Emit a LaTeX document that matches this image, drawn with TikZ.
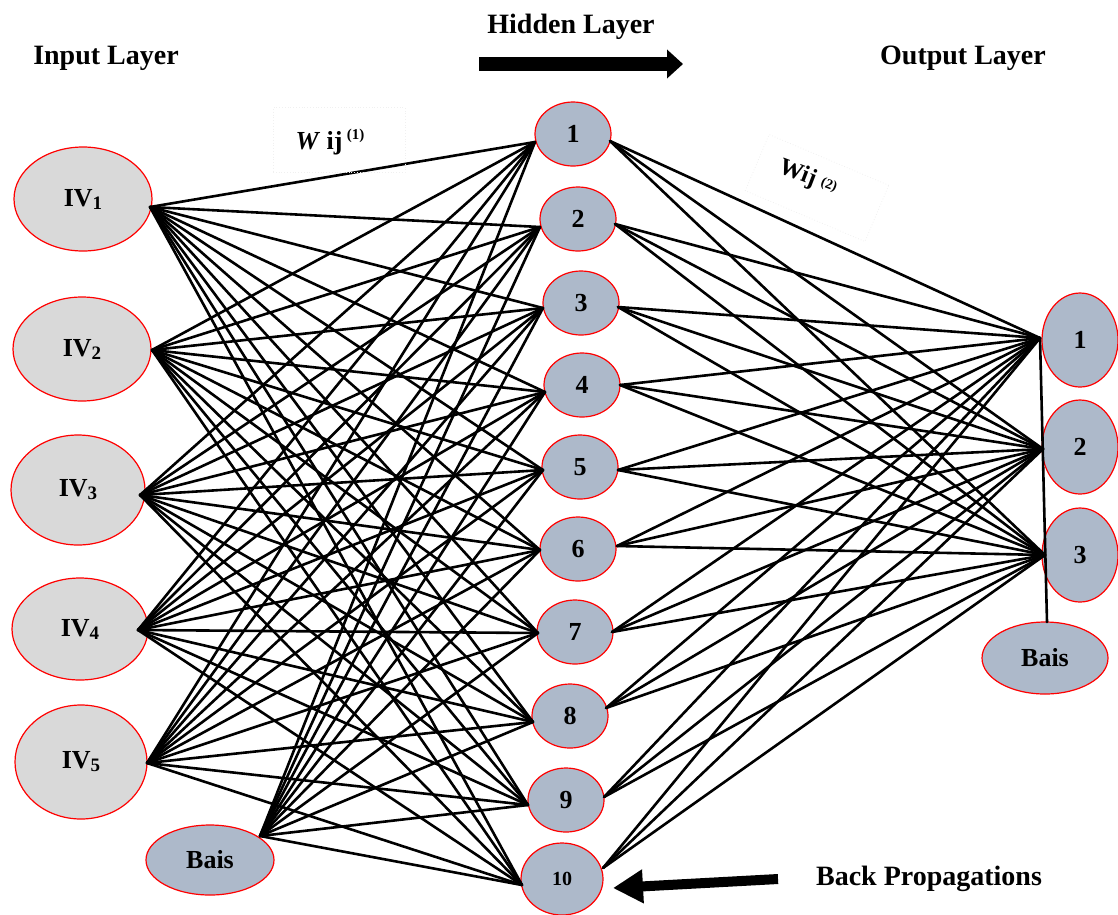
\documentclass[tikz,border=0pt]{standalone}
\usepackage{fontspec}
\setmainfont{Liberation Serif}
\usetikzlibrary{shapes.geometric,arrows.meta}
\definecolor{inputgray}{HTML}{D9D9D9}
\definecolor{unitblue}{HTML}{ADB9CA}
\newcommand\ivsub[1]{{\fontsize{19}{19}\selectfont\raisebox{-3pt}{#1}}}
\begin{document}
\begin{tikzpicture}[x=1pt,y=-1pt,
  unit/.style={ellipse,draw=red,line width=1.2pt,inner sep=0pt,
    font=\bfseries\fontsize{26}{26}\selectfont},
  inunit/.style={unit,fill=inputgray,minimum width=138pt},
  hidunit/.style={unit,fill=unitblue,minimum width=76pt,minimum height=64pt},
  outunit/.style={unit,fill=unitblue,minimum width=76pt,minimum height=94pt},
  wire/.style={line width=2.6pt,black,line cap=round},
  title/.style={font=\bfseries\fontsize{28}{28}\selectfont,inner sep=0pt},
  faintbox/.style={draw=gray!12,dotted,line width=0.8pt,inner sep=0pt}
]
\useasboundingbox (0,0) rectangle (1118,914);

% input layer
\node[inunit,minimum height=104pt] (IV1) at (83,199) {IV\ivsub{1}};
\node[inunit,minimum height=104pt] (IV2) at (82,349) {IV\ivsub{2}};
\node[inunit,minimum width=134pt,minimum height=110pt] (IV3) at (78,490) {IV\ivsub{3}};
\node[inunit,minimum width=136pt,minimum height=102pt] (IV4) at (80,629) {IV\ivsub{4}};
\node[inunit,minimum width=132pt,minimum height=114pt] (IV5) at (81,762) {IV\ivsub{5}};
\node[unit,fill=unitblue,minimum width=128pt,minimum height=70pt] (BI) at (210,860) {Bais};

% hidden layer
\node[hidunit] (H1) at (573,134) {1};
\node[hidunit] (H2) at (578,219) {2};
\node[hidunit] (H3) at (581,303) {3};
\node[hidunit] (H4) at (582,385) {4};
\node[hidunit] (H5) at (580,467) {5};
\node[hidunit] (H6) at (578,549) {6};
\node[hidunit] (H7) at (575,632) {7};
\node[hidunit] (H8) at (570,716) {8};
\node[hidunit] (H9) at (566,800) {9};
\node[hidunit,minimum width=82pt,minimum height=72pt,
  font=\bfseries\fontsize{20}{20}\selectfont] (H10) at (562,879) {10};

% output layer
\node[outunit] (O1) at (1080,340) {1};
\node[outunit] (O2) at (1080,447) {2};
\node[outunit] (O3) at (1080,555) {3};
\node[unit,fill=unitblue,minimum width=126pt,minimum height=72pt] (OB) at (1045,658) {Bais};

% ports where the wires meet
\coordinate (pI1) at (150,207);
\coordinate (pI2) at (152,350);
\coordinate (pI3) at (140,495);
\coordinate (pI4) at (138,630);
\coordinate (pI5) at (147,763);
\coordinate (pB) at (260,836);
\foreach \j/\x/\y in {1/535/142,2/540/227,3/543/308,4/545/392,5/543/470,
                      6/540/550,7/538/633,8/533/722,9/528/805,10/522/885}
  \coordinate (hL\j) at (\x,\y);
\foreach \j/\x/\y in {1/610/141,2/615/224,3/618/307,4/620/385,5/618/470,
                      6/617/546,7/612/632,8/606/708,9/604/797,10/603/868}
  \coordinate (hR\j) at (\x,\y);
\coordinate (pO1) at (1040,338);
\coordinate (pO2) at (1043,449);
\coordinate (pO3) at (1045,555);
\coordinate (pOB) at (1047,622);

% weights: input -> hidden
\foreach \i in {1,...,5}
  \foreach \j in {1,...,10}
    \draw[wire] (pI\i) -- (hL\j);
\foreach \j in {1,...,10}
  \draw[wire] (pB) -- (hL\j);

% weights: hidden -> output
\foreach \j in {1,...,10}
  \foreach \k in {1,2,3}
    \draw[wire] (hR\j) -- (pO\k);
\draw[wire] (pOB) -- (pO1);

% titles
\node[title] (tin) at (106,58) {Input Layer};
\node[title] (thid) at (571,27) {Hidden Layer};
\node[title] (tout) at (963,58) {Output Layer};
\node[title] (tback) at (929,879) {Back Propagations};

% direction arrows
\coordinate (fa1) at (479,64);
\coordinate (fa2) at (683,64);
\draw[line width=14pt,-{Triangle[length=16pt,width=28pt]}] (fa1) -- (fa2);
\coordinate (ba1) at (778,879);
\coordinate (ba2) at (613,888);
\draw[line width=10pt,-{Triangle[length=30pt,width=32pt]}] (ba1) -- (ba2);

% weight labels
\node[faintbox,minimum width=132pt,minimum height=65pt] (wbox1) at (339,140) {};
\node[font=\bfseries\fontsize{26}{26}\selectfont,inner sep=0pt] (w1) at (330,142)
  {\textit{W} ij\,\raisebox{10pt}{\fontsize{15}{15}\selectfont(1)}};
\node[faintbox,minimum width=130pt,minimum height=61pt,rotate=-23] (wbox2) at (817,188) {};
\node[font=\bfseries\fontsize{24}{24}\selectfont,inner sep=0pt,rotate=-21] (w2) at (808,178)
  {Wij\hspace{6pt}\raisebox{3pt}{\fontsize{14}{14}\selectfont(2)}};
\end{tikzpicture}
\end{document}
